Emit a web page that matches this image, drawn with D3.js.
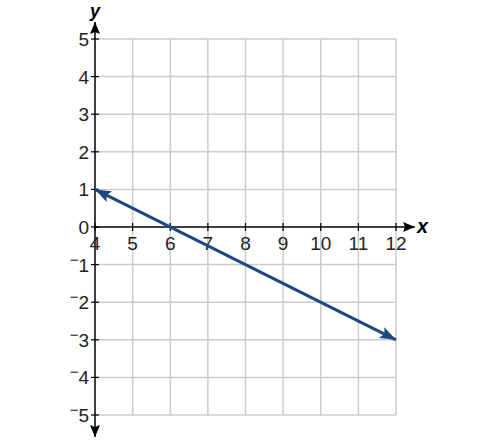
<!DOCTYPE html>
<html>
<head>
<meta charset="utf-8">
<script src="https://cdn.jsdelivr.net/npm/d3@7"></script>
<style>
body{margin:0;background:#fff;}
text{font-family:"Liberation Sans",Arial,sans-serif;}
</style>
</head>
<body>
<svg id="chart" width="487" height="441"></svg>
<script>
const xTicks = [4,5,6,7,8,9,10,11,12];
const yTicks = [-5,-4,-3,-2,-1,0,1,2,3,4,5];
const lineX = [4,12];
const lineY = [1,-3];

const svg = d3.select("#chart");
const x = d3.scaleLinear().domain([4,12]).range([95,396]);
const y = d3.scaleLinear().domain([-5,5]).range([415,39]);
const gridColor = "#cccccc";
const blue = "#1d4a7c";

const defs = svg.append("defs");
defs.append("marker").attr("id","ax").attr("viewBox","0 0 12 10").attr("refX",12).attr("refY",5)
  .attr("markerWidth",12).attr("markerHeight",10).attr("markerUnits","userSpaceOnUse").attr("orient","auto")
  .append("path").attr("d","M0,0 L12,5 L0,10 L2,5 Z").attr("fill","#000");
defs.append("marker").attr("id","la").attr("viewBox","0 0 16 12").attr("refX",16).attr("refY",6)
  .attr("markerWidth",16).attr("markerHeight",12).attr("markerUnits","userSpaceOnUse").attr("orient","auto-start-reverse")
  .append("path").attr("d","M0,0 L16,6 L0,12 L3,6 Z").attr("fill",blue);

// grid
svg.append("g").selectAll("line").data(xTicks.filter(d=>d!==4)).join("line")
  .attr("x1",d=>x(d)).attr("x2",d=>x(d)).attr("y1",y(5)).attr("y2",y(-5))
  .attr("stroke",gridColor).attr("stroke-width",1.5);
svg.append("g").selectAll("line").data(yTicks.filter(d=>d!==0)).join("line")
  .attr("x1",x(4)).attr("x2",x(12)).attr("y1",d=>y(d)).attr("y2",d=>y(d))
  .attr("stroke",gridColor).attr("stroke-width",1.5);

// axes
svg.append("line").attr("x1",x(4)).attr("x2",x(4)).attr("y1",y(5)).attr("y2",22)
  .attr("stroke","#000").attr("stroke-width",1.5).attr("marker-end","url(#ax)");
svg.append("line").attr("x1",x(4)).attr("x2",x(4)).attr("y1",y(5)).attr("y2",437)
  .attr("stroke","#000").attr("stroke-width",1.5).attr("marker-end","url(#ax)");
svg.append("line").attr("x1",x(4)).attr("x2",415).attr("y1",y(0)).attr("y2",y(0))
  .attr("stroke","#000").attr("stroke-width",1.5).attr("marker-end","url(#ax)");

// tick marks
svg.append("g").selectAll("line").data(yTicks).join("line")
  .attr("x1",x(4)-4).attr("x2",x(4)+4).attr("y1",d=>y(d)).attr("y2",d=>y(d))
  .attr("stroke","#000").attr("stroke-width",1.2);
svg.append("g").selectAll("line").data(xTicks).join("line")
  .attr("x1",d=>x(d)).attr("x2",d=>x(d)).attr("y1",y(0)-4).attr("y2",y(0)+4)
  .attr("stroke","#000").attr("stroke-width",1.2);

function label(sel, d){
  if(d<0){
    sel.append("tspan").attr("font-size",15).attr("dy",-7).text("\u2212");
    sel.append("tspan").attr("dy",7).text(Math.abs(d));
  } else sel.text(d);
}
// y labels
svg.append("g").selectAll("text").data(yTicks).join("text")
  .attr("x",x(4)-6).attr("y",d=>y(d)+7).attr("text-anchor","end")
  .attr("font-size",19).attr("fill","#222").each(function(d){label(d3.select(this),d);});
// x labels
svg.append("g").selectAll("text").data(xTicks).join("text")
  .attr("x",d=>x(d)).attr("y",y(0)+23).attr("text-anchor","middle")
  .attr("font-size",19).attr("fill","#222").text(d=>d);

// axis titles
svg.append("text").attr("x",x(4)).attr("y",17).attr("text-anchor","middle")
  .attr("font-size",18).attr("font-style","italic").attr("font-weight","bold").text("y");
svg.append("text").attr("x",417).attr("y",y(0)+6).attr("text-anchor","start")
  .attr("font-size",20).attr("font-style","italic").attr("font-weight","bold").text("x");

// line
svg.append("line").attr("x1",x(lineX[0])).attr("y1",y(lineY[0])).attr("x2",x(lineX[1])).attr("y2",y(lineY[1]))
  .attr("stroke",blue).attr("stroke-width",3)
  .attr("marker-start","url(#la)").attr("marker-end","url(#la)");
</script>
</body>
</html>
